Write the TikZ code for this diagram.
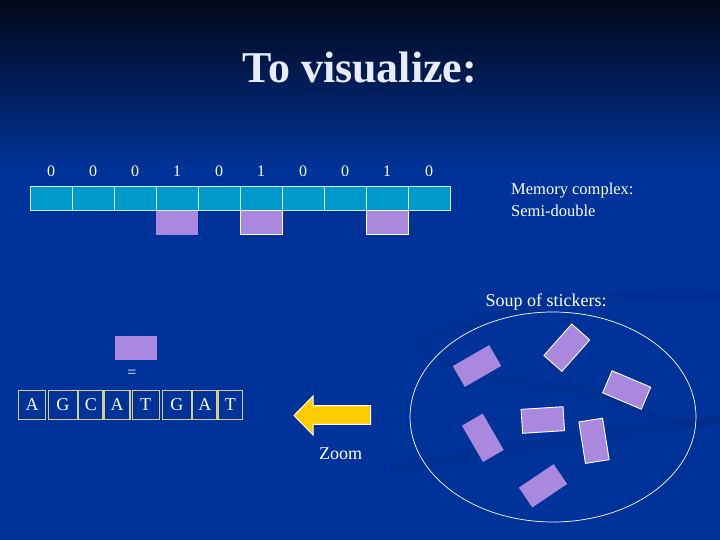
\documentclass[tikz,border=0pt]{standalone}
\usepackage{fontspec}
\setmainfont{Liberation Serif}
\usetikzlibrary{shapes.geometric}
\definecolor{bgblue}{RGB}{0,51,153}
\definecolor{bgtop}{RGB}{3,8,25}
\definecolor{bgmid}{RGB}{2,28,88}
\definecolor{cellblue}{RGB}{0,153,204}
\definecolor{cellline}{RGB}{210,235,245}
\definecolor{stickerpurple}{RGB}{170,136,221}
\definecolor{arrowyellow}{RGB}{255,204,0}
\definecolor{khaki}{RGB}{215,205,135}
\definecolor{titlewhite}{RGB}{232,236,250}
\tikzset{
  cellbox/.style={rectangle, draw=cellline, line width=0.9pt, fill=cellblue,
    minimum width=42pt, minimum height=24pt, inner sep=0pt},
  sticker/.style={rectangle, fill=stickerpurple, minimum width=42pt,
    minimum height=24pt, inner sep=0pt},
  stickerb/.style={sticker, draw=white, line width=0.9pt},
  digit/.style={text=white, font=\fontsize{16}{18}\selectfont, inner sep=0pt, anchor=base},
  lettbox/.style={rectangle, draw=khaki, line width=1.1pt, fill=bgblue,
    minimum height=29pt, inner sep=0pt, text=white, font=\fontsize{18}{20}\selectfont},
  label/.style={text=white, inner sep=0pt},
  swoosh/.style={draw=black, opacity=0.05, line cap=round}
}
\begin{document}
\begin{tikzpicture}[x=1pt,y=-1pt]
\useasboundingbox (0,0) rectangle (720,540);
\fill[bgblue] (0,0) rectangle (720,540);
\shade[top color=bgtop, middle color=bgmid, bottom color=bgblue] (0,0) rectangle (720,170);
% faint background swooshes
\draw[swoosh, line width=9pt] (425,338) .. controls (520,300) and (630,292) .. (720,296);
\draw[swoosh, line width=7pt] (420,345) .. controls (470,390) and (560,380) .. (610,400)
  .. controls (650,415) and (690,430) .. (720,418);
\draw[swoosh, line width=10pt] (395,468) .. controls (500,450) and (620,430) .. (720,420);
% title
\node[text=titlewhite, font=\fontsize{44}{50}\selectfont\bfseries, anchor=base] (title) at (360,83) {To visualize:};
% memory strip
\foreach \d [count=\i from 0] in {0,0,0,1,0,1,0,0,1,0} {
  \node[cellbox] (c\i) at ({51+42*\i},198) {};
  \node[digit] (d\i) at ({51+42*\i},177) {\d};
}
\node[sticker, anchor=north] (s3) at (c3.south) {};
\node[stickerb, anchor=north] (s5) at (c5.south) {};
\node[stickerb, anchor=north] (s8) at (c8.south) {};
\node[label, anchor=base west, font=\fontsize{16.5}{19}\selectfont] (mem1) at (511,195) {Memory complex:};
\node[label, anchor=base west, font=\fontsize{16.5}{19}\selectfont] (mem2) at (511,217) {Semi-double};
% soup
\node[label, anchor=base, font=\fontsize{18}{20}\selectfont] (souplbl) at (546,306) {Soup of stickers:};
\node[ellipse, draw=white, line width=0.7pt, minimum width=286pt, minimum height=210pt, inner sep=0pt] (soup) at (553,417) {};
\node[sticker, rotate=30] (p1) at (477,366) {};
\node[stickerb, rotate=48.5] (p2) at (566.8,347.7) {};
\node[stickerb, rotate=-23] (p3) at (626.7,390) {};
\node[stickerb, rotate=3.6] (p4) at (542.8,420) {};
\node[sticker, rotate=-60] (p5) at (482.8,437.8) {};
\node[stickerb, rotate=-81] (p6) at (594,440.8) {};
\node[sticker, rotate=34] (p7) at (543,485.8) {};
% zoomed sticker
\node[sticker] (zs) at (135.5,348) {};
\node[label, font=\fontsize{16}{18}\selectfont] (eq) at (132,374) {=};
\node[lettbox, minimum width=27.4pt] (l1) at (32,404.7) {A};
\node[lettbox, minimum width=29pt] (l2) at (62.8,404.7) {G};
\node[lettbox, minimum width=24.3pt] (l3) at (90.8,404.7) {C};
\node[lettbox, minimum width=26pt] (l4) at (117,404.7) {A};
\node[lettbox, minimum width=26.7pt] (l5) at (145.7,404.7) {T};
\node[lettbox, minimum width=29pt] (l6) at (176.8,404.7) {G};
\node[lettbox, minimum width=24.3pt] (l7) at (204.8,404.7) {A};
\node[lettbox, minimum width=24.7pt] (l8) at (230.3,404.7) {T};
% zoom arrow
\draw[fill=arrowyellow, draw=white, line width=1pt, line join=miter]
  (294,415.5) -- (313,396) -- (313,405.7) -- (370.7,405.7) -- (370.7,424.3)
  -- (313,424.3) -- (313,435) -- cycle;
\node[label, anchor=base, font=\fontsize{18}{20}\selectfont] (zoomlbl) at (340.7,459) {Zoom};
\end{tikzpicture}
\end{document}
